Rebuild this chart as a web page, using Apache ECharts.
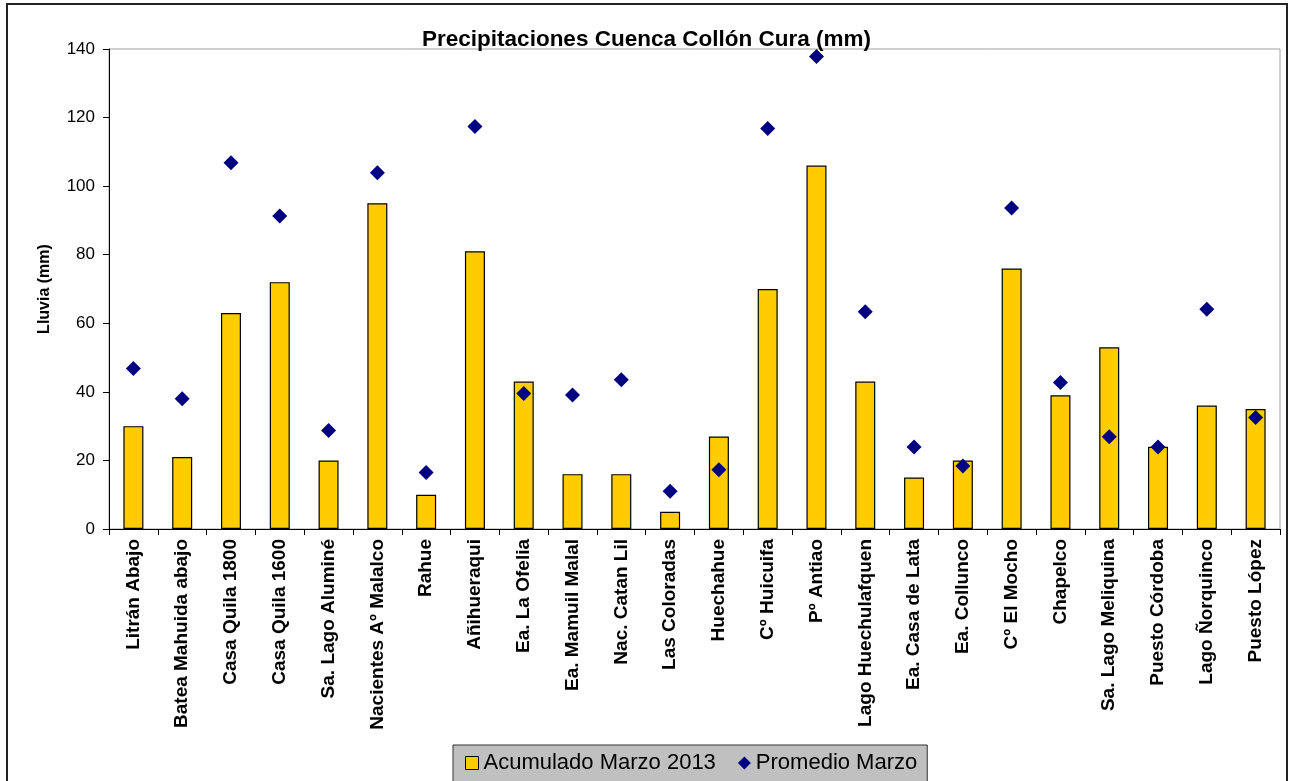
<!DOCTYPE html>
<html>
<head>
<meta charset="utf-8">
<script src="https://cdn.jsdelivr.net/npm/echarts@6/dist/echarts.min.js"></script>
<style>
html,body{margin:0;padding:0;background:#fff;}
#c{width:1293px;height:781px;}
</style>
</head>
<body>
<div id="c"></div>
<script>
const categories = ["Litrán Abajo","Batea Mahuida abajo","Casa Quila 1800","Casa Quila 1600","Sa. Lago Aluminé","Nacientes Aº Malalco","Rahue","Añihueraqui","Ea. La Ofelia","Ea. Mamuil Malal","Nac. Catan Lil","Las Coloradas","Huechahue","Cº Huicuifa","Pº Antiao","Lago Huechulafquen","Ea. Casa de Lata","Ea. Collunco","Cº El Mocho","Chapelco","Sa. Lago Meliquina","Puesto Córdoba","Lago Ñorquinco","Puesto López"];
const acumulado = [30,21,63,72,20,95,10,81,43,16,16,5,27,70,106,43,15,20,76,39,53,24,36,35];
const promedio = [46.8,38,106.8,91.3,28.7,103.9,16.5,117.4,39.5,39.1,43.5,11,17.3,116.8,137.8,63.4,23.9,18.4,93.6,42.7,26.9,23.9,64.1,32.5];
const yTicks = [0,20,40,60,80,100,120,140];

const FONT = '"Liberation Sans", Arial, sans-serif';
const chart = echarts.init(document.getElementById('c'), null, {renderer:'canvas'});
chart.setOption({
  animation:false,
  backgroundColor:'#ffffff',
  textStyle:{fontFamily:FONT, color:'#000'},
  title:{
    text:'Precipitaciones Cuenca Collón Cura (mm)',
    left:'center', top:23,
    textStyle:{fontFamily:FONT, fontSize:22.5, fontWeight:'bold', color:'#000'}
  },
  graphic:[{
    type:'rect', shape:{x:7,y:4,width:1280,height:800},
    style:{fill:'none', stroke:'#222', lineWidth:2}, silent:true, z:-1
  }],
  grid:{left:109, right:13, top:49, bottom:252, show:true, borderColor:'#a0a0a0', borderWidth:1, backgroundColor:'#fff'},
  legend:{
    left:453, top:745, width:475,
    backgroundColor:'#c0c0c0', borderColor:'#333', borderWidth:1,
    padding:[7,10,8,12], itemGap:22, itemWidth:13, itemHeight:13,
    textStyle:{fontFamily:FONT, fontSize:22, color:'#000'},
    data:[
      {name:'Acumulado Marzo 2013', icon:'rect', itemStyle:{color:'#FFCC00', borderColor:'#000', borderWidth:1}},
      {name:'Promedio Marzo', icon:'diamond', itemStyle:{color:'#000080', opacity:1}}
    ]
  },
  xAxis:{
    type:'category', data:categories,
    axisLine:{lineStyle:{color:'#000', width:1}},
    axisTick:{show:true, length:6, lineStyle:{color:'#000'}},
    axisLabel:{rotate:90, interval:0, margin:10, fontFamily:FONT, fontSize:19, fontWeight:'bold', color:'#000'}
  },
  yAxis:{
    type:'value', min:0, max:140, interval:20,
    name:'Lluvia (mm)', nameLocation:'middle', nameGap:56, nameRotate:90,
    nameTextStyle:{fontFamily:FONT, fontSize:16, fontWeight:'bold', color:'#000'},
    axisLine:{show:true, lineStyle:{color:'#000', width:1}},
    axisTick:{show:true, length:6, lineStyle:{color:'#000'}},
    axisLabel:{margin:14, fontFamily:FONT, fontSize:17, color:'#000',
      formatter:function(v){return yTicks.indexOf(v)>=0 ? String(v) : '';}},
    splitLine:{show:false}
  },
  series:[
    {name:'Acumulado Marzo 2013', type:'bar', data:acumulado, barWidth:20,
     itemStyle:{color:'#FFCC00', borderColor:'#000', borderWidth:1.2}},
    {name:'Promedio Marzo', type:'scatter', data:promedio, symbol:'diamond', symbolSize:15,
     itemStyle:{color:'#000080', opacity:1}, z:5}
  ]
});
</script>
</body>
</html>
